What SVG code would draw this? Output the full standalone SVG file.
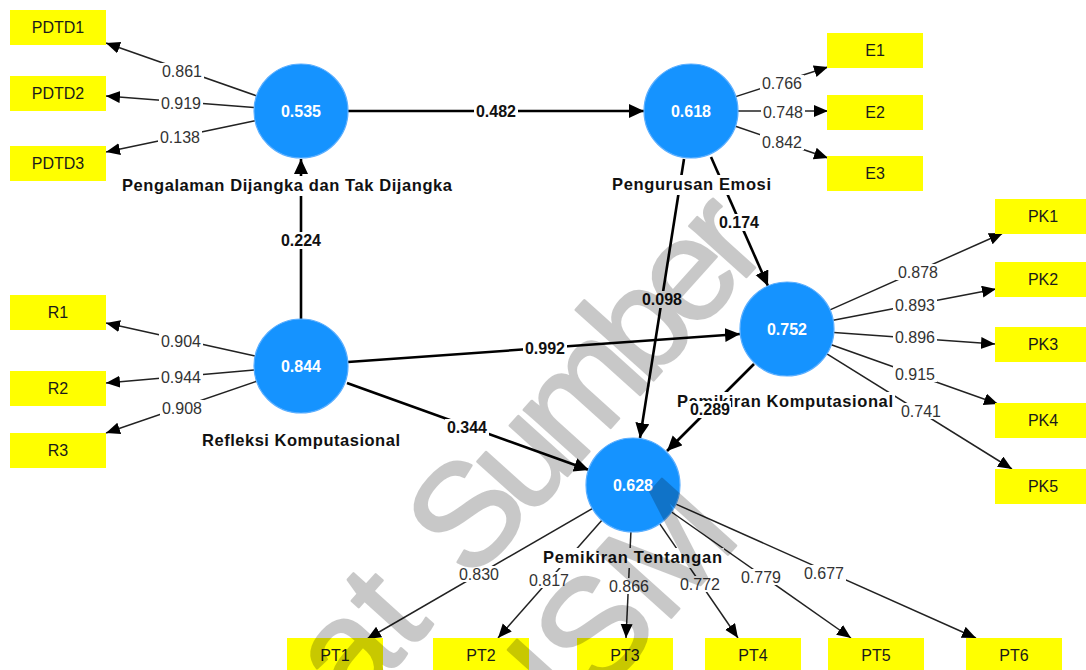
<svg xmlns="http://www.w3.org/2000/svg" width="1086" height="670" viewBox="0 0 1086 670">
<defs>
<style>
.box{fill:#ffff00}
.bt{font-family:"Liberation Sans",Arial,sans-serif;font-size:16px;fill:#1a1a1a;text-anchor:middle}
.lv{fill:#1593ff;stroke:#5aaeff;stroke-width:1.2}
.lvt{font-family:"Liberation Sans",Arial,sans-serif;font-size:16px;font-weight:bold;fill:#ffffff;text-anchor:middle}
.ld{stroke:#222;stroke-width:1.5;fill:none;marker-end:url(#ah)}
.st{stroke:#000;stroke-width:2.6;fill:none;marker-end:url(#ahb)}
.bg{fill:#ffffff}
.ll{font-family:"Liberation Sans",Arial,sans-serif;font-size:16px;fill:#333;text-anchor:middle}
.pl{font-family:"Liberation Sans",Arial,sans-serif;font-size:16px;font-weight:bold;fill:#111;text-anchor:middle}
.cn{font-family:"Liberation Sans",Arial,sans-serif;font-size:16.5px;font-weight:bold;fill:#111}
.wm{font-family:"Liberation Sans",Arial,sans-serif;font-size:145px;fill:#000;stroke:#000;stroke-width:2.5;stroke-linejoin:round}
</style>
<marker id="ah" markerUnits="userSpaceOnUse" markerWidth="16" markerHeight="14" refX="14" refY="6" orient="auto">
<path d="M0,0 L14,6 L0,12 z" fill="#000"/>
</marker>
<marker id="ahb" markerUnits="userSpaceOnUse" markerWidth="18" markerHeight="16" refX="15" refY="7" orient="auto">
<path d="M0,0 L15,7 L0,14 z" fill="#000"/>
</marker>
</defs>
<rect width="1086" height="670" fill="#ffffff"/>

<g id="connectors">
<line class="st" x1="348" y1="111" x2="644" y2="111"/>
<line class="st" x1="301" y1="319" x2="301" y2="159"/>
<line class="st" x1="348" y1="362" x2="740" y2="334"/>
<line class="st" x1="347" y1="383" x2="589" y2="470"/>
<line class="st" x1="711" y1="157" x2="768" y2="286"/>
<line class="st" x1="684" y1="159" x2="640" y2="438"/>
<line class="st" x1="754" y1="364" x2="667" y2="451"/>
<line class="ld" x1="257" y1="96" x2="106" y2="43"/>
<line class="ld" x1="254" y1="107.4" x2="106" y2="96"/>
<line class="ld" x1="255" y1="120.7" x2="106" y2="152"/>
<line class="ld" x1="735.7" y1="96.6" x2="828" y2="67"/>
<line class="ld" x1="738" y1="111" x2="828" y2="111"/>
<line class="ld" x1="735.5" y1="126.3" x2="828" y2="158"/>
<line class="ld" x1="255.1" y1="355.9" x2="106" y2="323"/>
<line class="ld" x1="254.2" y1="370.1" x2="106" y2="383"/>
<line class="ld" x1="256.5" y1="381.3" x2="106" y2="433"/>
<line class="ld" x1="830" y1="309.9" x2="1003" y2="233"/>
<line class="ld" x1="833.2" y1="320.2" x2="996" y2="289"/>
<line class="ld" x1="833.9" y1="332.4" x2="995" y2="344"/>
<line class="ld" x1="831.3" y1="344.7" x2="998" y2="404"/>
<line class="ld" x1="826.9" y1="353.8" x2="1012" y2="469"/>
<line class="ld" x1="592.3" y1="508.6" x2="367" y2="639"/>
<line class="ld" x1="601.9" y1="520.3" x2="498" y2="638"/>
<line class="ld" x1="630.9" y1="532" x2="626" y2="638"/>
<line class="ld" x1="659.6" y1="523.7" x2="738" y2="638"/>
<line class="ld" x1="671.5" y1="512" x2="851" y2="638"/>
<line class="ld" x1="675.9" y1="504.1" x2="976" y2="638"/>
</g>

<g id="PDTD1"><rect class="box" x="10" y="10" width="96" height="35"/><text class="bt" x="58" y="33">PDTD1</text></g>
<g id="PDTD2"><rect class="box" x="10" y="76" width="96" height="35"/><text class="bt" x="58" y="99">PDTD2</text></g>
<g id="PDTD3"><rect class="box" x="10" y="146" width="96" height="35"/><text class="bt" x="58" y="169">PDTD3</text></g>
<g id="E1"><rect class="box" x="827" y="33" width="96" height="35"/><text class="bt" x="875" y="56">E1</text></g>
<g id="E2"><rect class="box" x="827" y="95" width="96" height="35"/><text class="bt" x="875" y="118">E2</text></g>
<g id="E3"><rect class="box" x="827" y="156" width="96" height="35"/><text class="bt" x="875" y="179">E3</text></g>
<g id="R1"><rect class="box" x="10" y="295" width="96" height="35"/><text class="bt" x="58" y="318">R1</text></g>
<g id="R2"><rect class="box" x="10" y="371" width="96" height="35"/><text class="bt" x="58" y="394">R2</text></g>
<g id="R3"><rect class="box" x="10" y="433" width="96" height="35"/><text class="bt" x="58" y="456">R3</text></g>
<g id="PK1"><rect class="box" x="995" y="199" width="96" height="35"/><text class="bt" x="1043" y="222">PK1</text></g>
<g id="PK2"><rect class="box" x="995" y="262" width="96" height="35"/><text class="bt" x="1043" y="285">PK2</text></g>
<g id="PK3"><rect class="box" x="995" y="327" width="96" height="35"/><text class="bt" x="1043" y="350">PK3</text></g>
<g id="PK4"><rect class="box" x="995" y="403" width="96" height="35"/><text class="bt" x="1043" y="426">PK4</text></g>
<g id="PK5"><rect class="box" x="995" y="469" width="96" height="35"/><text class="bt" x="1043" y="492">PK5</text></g>
<g id="PT1"><rect class="box" x="287" y="638" width="96" height="35"/><text class="bt" x="335" y="661">PT1</text></g>
<g id="PT2"><rect class="box" x="433" y="638" width="96" height="35"/><text class="bt" x="481" y="661">PT2</text></g>
<g id="PT3"><rect class="box" x="577" y="638" width="96" height="35"/><text class="bt" x="625" y="661">PT3</text></g>
<g id="PT4"><rect class="box" x="705" y="638" width="96" height="35"/><text class="bt" x="753" y="661">PT4</text></g>
<g id="PT5"><rect class="box" x="828" y="638" width="96" height="35"/><text class="bt" x="876" y="661">PT5</text></g>
<g id="PT6"><rect class="box" x="966" y="638" width="96" height="35"/><text class="bt" x="1014" y="661">PT6</text></g>

<g id="PDTD">
<circle class="lv" cx="301" cy="111" r="47"/>
<text class="lvt" x="301" y="117">0.535</text>
<rect class="bg" x="120" y="176" width="334" height="20"/>
<text class="cn" x="122" y="191" textLength="330" lengthAdjust="spacing">Pengalaman Dijangka dan Tak Dijangka</text>
</g>
<g id="PE">
<circle class="lv" cx="691" cy="111" r="47"/>
<text class="lvt" x="691" y="117">0.618</text>
<rect class="bg" x="610" y="175" width="163" height="20"/>
<text class="cn" x="612" y="190" textLength="159" lengthAdjust="spacing">Pengurusan Emosi</text>
</g>
<g id="RK">
<circle class="lv" cx="301" cy="366" r="47"/>
<text class="lvt" x="301" y="372">0.844</text>
<rect class="bg" x="200" y="431" width="202" height="20"/>
<text class="cn" x="202" y="446" textLength="198" lengthAdjust="spacing">Refleksi Komputasional</text>
</g>
<g id="PK">
<circle class="lv" cx="787" cy="329" r="47"/>
<text class="lvt" x="787" y="335">0.752</text>
<rect class="bg" x="675" y="392" width="220" height="20"/>
<text class="cn" x="677" y="407" textLength="216" lengthAdjust="spacing">Pemikiran Komputasional</text>
</g>
<g id="PT">
<circle class="lv" cx="633" cy="485" r="47"/>
<text class="lvt" x="633" y="491">0.628</text>
<rect class="bg" x="541" y="548" width="183" height="20"/>
<text class="cn" x="543" y="563" textLength="179" lengthAdjust="spacing">Pemikiran Tentangan</text>
</g>

<g id="loading-labels">
<rect class="bg" x="160" y="63" width="44" height="16"/><text class="ll" x="182" y="77">0.861</text>
<rect class="bg" x="159" y="95" width="44" height="16"/><text class="ll" x="181" y="109">0.919</text>
<rect class="bg" x="158" y="129" width="44" height="16"/><text class="ll" x="180" y="143">0.138</text>
<rect class="bg" x="760" y="75" width="44" height="16"/><text class="ll" x="782" y="89">0.766</text>
<rect class="bg" x="761" y="104" width="44" height="16"/><text class="ll" x="783" y="118">0.748</text>
<rect class="bg" x="760" y="134" width="44" height="16"/><text class="ll" x="782" y="148">0.842</text>
<rect class="bg" x="159" y="333" width="44" height="16"/><text class="ll" x="181" y="347">0.904</text>
<rect class="bg" x="159" y="369" width="44" height="16"/><text class="ll" x="181" y="383">0.944</text>
<rect class="bg" x="160" y="400" width="44" height="16"/><text class="ll" x="182" y="414">0.908</text>
<rect class="bg" x="896" y="264" width="44" height="16"/><text class="ll" x="918" y="278">0.878</text>
<rect class="bg" x="893" y="297" width="44" height="16"/><text class="ll" x="915" y="311">0.893</text>
<rect class="bg" x="893" y="329" width="44" height="16"/><text class="ll" x="915" y="343">0.896</text>
<rect class="bg" x="893" y="366" width="44" height="16"/><text class="ll" x="915" y="380">0.915</text>
<rect class="bg" x="899" y="403" width="44" height="16"/><text class="ll" x="921" y="417">0.741</text>
<rect class="bg" x="457" y="566" width="44" height="16"/><text class="ll" x="479" y="580">0.830</text>
<rect class="bg" x="527" y="572" width="44" height="16"/><text class="ll" x="549" y="586">0.817</text>
<rect class="bg" x="607" y="578" width="44" height="16"/><text class="ll" x="629" y="592">0.866</text>
<rect class="bg" x="678" y="576" width="44" height="16"/><text class="ll" x="700" y="590">0.772</text>
<rect class="bg" x="739" y="569" width="44" height="16"/><text class="ll" x="761" y="583">0.779</text>
<rect class="bg" x="802" y="565" width="44" height="16"/><text class="ll" x="824" y="579">0.677</text>
</g>

<g id="path-labels">
<rect class="bg" x="474" y="103" width="44" height="17"/><text class="pl" x="496" y="117">0.482</text>
<rect class="bg" x="279" y="232" width="44" height="17"/><text class="pl" x="301" y="246">0.224</text>
<rect class="bg" x="523" y="340" width="44" height="17"/><text class="pl" x="545" y="354">0.992</text>
<rect class="bg" x="445" y="419" width="44" height="17"/><text class="pl" x="467" y="433">0.344</text>
<rect class="bg" x="717" y="214" width="44" height="17"/><text class="pl" x="739" y="228">0.174</text>
<rect class="bg" x="640" y="291" width="44" height="17"/><text class="pl" x="662" y="305">0.098</text>
<rect class="bg" x="689" y="401" width="42" height="17"/><text class="pl" x="710" y="415">0.289</text>
</g>

<g id="watermark" opacity="0.21" transform="translate(471,583) rotate(-48)">
<text class="wm" x="-176" y="0">at</text>
<text class="wm" x="0" y="0" textLength="450" lengthAdjust="spacing">Sumber</text>
<text class="wm" x="-105" y="172">USM</text>
</g>
</svg>
